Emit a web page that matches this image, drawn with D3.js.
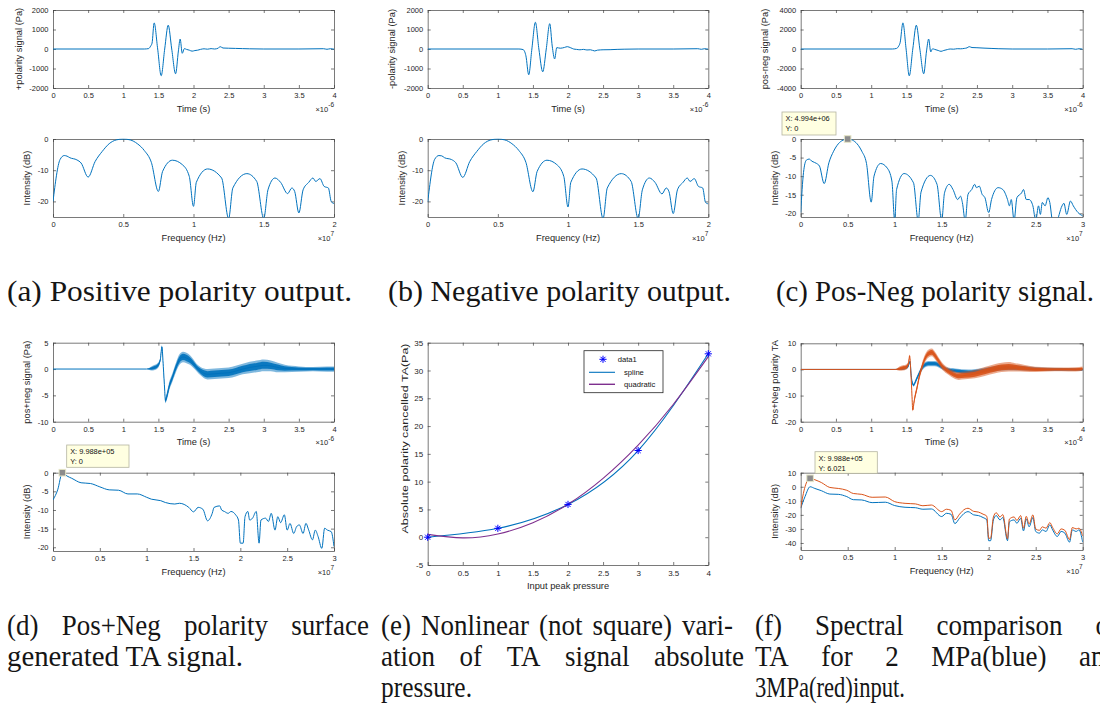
<!DOCTYPE html>
<html><head><meta charset="utf-8">
<script src="https://cdn.jsdelivr.net/npm/d3@7"></script>
<style>body{margin:0;background:#fff} svg{display:block}</style>
</head><body>
<svg id="fig" width="1100" height="704"></svg>
<script>
// ---------------- tick label arrays ----------------
const timeTicks = [0,0.5,1,1.5,2,2.5,3,3.5,4];
const freqTicks2 = [0,0.5,1,1.5,2];
const freqTicks3 = [0,0.5,1,1.5,2,2.5,3];
const paTicks2k = [-2000,-1000,0,1000,2000];
const paTicks4k = [-4000,-2000,0,2000,4000];
const dbTicks10s = [-20,-10,0];
const dbTicks5s = [-20,-15,-10,-5,0];
const sumTicks = [-10,-5,0,5];
const taTicks = [-20,-10,0,10];
const taDbTicks = [-40,-30,-20,-10,0,10];
const inputTicks = [0,0.5,1,1.5,2,2.5,3,3.5,4];
const absTicks = [-5,0,5,10,15,20,25,30,35];

// ---------------- (a) positive polarity ----------------
const posTime = [0,1.30,1.36,1.39,1.41,1.44,1.49,1.54,1.59,1.64,1.69,1.745,1.785,1.81,1.84,1.87,1.90,1.94,1.98,2.02,2.06,2.10,2.15,2.20,2.25,2.30,2.35,2.38,2.42,2.50,2.60,2.70,2.80,3.00,3.50,3.85,3.90,3.95,4.00];
const posSig  = [0,0,20,150,300,1340,0,-1370,0,1220,0,-1270,-100,510,-220,20,-20,-60,-110,-80,-60,-20,10,-10,20,0,40,120,50,40,30,20,10,0,0,15,-15,15,-10];
const specFreq2 = [0,0.05,0.08,0.10,0.12,0.17,0.20,0.25,0.30,0.35,0.40,0.45,0.50,0.55,0.60,0.65,0.70,0.75,0.78,0.85,0.92,0.97,1.00,1.02,1.10,1.20,1.25,1.28,1.38,1.45,1.50,1.53,1.58,1.62,1.67,1.70,1.72,1.75,1.78,1.82,1.85,1.87,1.90,1.93,1.96,1.98,2.00];
const posDb = [-20,-6.6,-5.3,-5.5,-6,-6.7,-7.7,-12.2,-7.2,-4,-1.5,-0.3,0,-0.3,-1.5,-3.7,-7.5,-16.8,-10.4,-6.8,-8.2,-12,-21.6,-13.9,-9.6,-12.5,-25.5,-15.7,-11.1,-13.6,-25.5,-16.3,-12.5,-13.9,-17.5,-15.7,-16.8,-23.7,-16.3,-13.9,-12.5,-13.6,-12.7,-15.2,-15.7,-20,-20.7];

// ---------------- (b) negative polarity ----------------
const negTime = [0,1.30,1.36,1.40,1.44,1.485,1.535,1.585,1.64,1.69,1.74,1.775,1.81,1.84,1.89,1.95,1.99,2.04,2.08,2.12,2.17,2.22,2.27,2.32,2.38,2.42,2.50,2.60,2.70,2.80,3.00,3.50,3.85,3.90,3.95,4.00];
const negSig  = [0,0,-30,-350,-1320,0,1370,0,-1170,0,1300,150,-510,70,40,80,120,60,0,-20,-40,-20,-50,-40,-100,-60,-40,-35,-20,-10,0,0,15,-15,15,-10];
const negDb = [-20.2,-6.5,-5.3,-5.4,-6,-6.6,-7.6,-12.3,-7.2,-4,-1.5,-0.3,0,-0.3,-1.5,-3.7,-7.5,-16.9,-10.4,-6.8,-8.2,-12,-21.8,-13.9,-9.6,-12.5,-25.5,-15.7,-11.1,-13.6,-25.5,-16.3,-12.5,-13.9,-17.6,-15.7,-16.9,-23.9,-16.3,-13.9,-12.5,-13.6,-12.7,-15.2,-15.7,-20.3,-20.8];

// ---------------- (c) pos-neg ----------------
const pnTime = [0,1.30,1.36,1.39,1.41,1.45,1.495,1.54,1.59,1.64,1.69,1.745,1.785,1.815,1.845,1.87,1.90,1.95,1.99,2.03,2.08,2.12,2.17,2.22,2.27,2.32,2.36,2.39,2.43,2.50,2.60,2.70,2.80,3.00,3.50,3.85,3.90,3.95,4.00];
const pnSig  = [0,0,60,300,640,2680,0,-2750,0,2440,0,-2540,-200,1020,-300,20,-40,-150,-240,-150,-60,0,-20,30,20,60,120,240,150,130,90,60,30,0,0,30,-30,30,-20];
const pnFreq = [0,0.03,0.06,0.09,0.12,0.17,0.20,0.25,0.30,0.35,0.40,0.45,0.50,0.55,0.60,0.65,0.70,0.75,0.78,0.85,0.92,0.97,1.00,1.02,1.10,1.20,1.25,1.28,1.38,1.45,1.50,1.53,1.58,1.62,1.67,1.70,1.72,1.75,1.78,1.82,1.85,1.87,1.90,1.93,1.96,2.00,2.03,2.10,2.15,2.20,2.22,2.24,2.27,2.30,2.35,2.37,2.40,2.43,2.47,2.50,2.53,2.55,2.57,2.60,2.63,2.65,2.68,2.72,2.78,2.80,2.83,2.87,2.90,2.95,3.00];
const pnDb = [-19.8,-9,-5.7,-5.4,-6,-6.6,-7.3,-12,-6.4,-3.3,-1.3,-0.3,0,-0.3,-1.3,-3.3,-6.6,-17,-10,-6.6,-7.8,-11.3,-22,-13.6,-9.3,-11.8,-22,-14.3,-9.8,-12.2,-22,-14.5,-12.2,-13.6,-16.3,-15.4,-17.1,-22,-14.9,-13.6,-12.2,-13.1,-12.7,-14.9,-15.8,-19.8,-16.3,-13.1,-13.6,-16.3,-18,-16.3,-22,-15.8,-14.5,-13.6,-16.3,-16.3,-18,-22,-18,-20.3,-17.1,-18,-15.8,-17.1,-22,-22,-18,-17.3,-20.3,-16.7,-18,-19.8,-20.7];
const pnTip = {f: 0.4994, db: 0, lines: ["X: 4.994e+06", "Y: 0"]};

// ---------------- (d) pos+neg ----------------
const sumTime  = [0,1.33,1.40,1.45,1.50,1.53,1.55,1.57,1.59,1.60,1.62,1.66,1.70,1.75,1.80,1.85,1.90,1.95,2.00,2.05,2.10,2.20,2.30,2.40,2.50,2.60,2.70,2.80,2.90,3.00,3.10,3.20,3.30,3.50,3.70,3.90,4.00];
const sumSig   = [0,0,0.1,0.3,0.8,2.0,4.2,0.5,-4.0,-6.0,-5.2,-3.0,-1.6,0.3,1.8,2.3,2.1,1.7,1.0,0.2,-0.4,-1.0,-0.9,-0.8,-0.7,-0.4,0.0,0.3,0.5,0.7,0.6,0.3,0.1,0.0,0.0,0.0,0.0];
const sumNoise = [0,0,0.4,0.5,0.5,0.4,0.3,0.3,0.3,0.5,0.7,0.8,0.8,0.9,1.0,1.0,1.0,0.9,0.8,0.7,0.8,1.0,1.0,1.0,1.0,1.0,1.0,1.1,1.1,1.1,1.0,0.9,0.7,0.5,0.4,0.5,0.5];
const sumFreq = [0,0.05,0.10,0.15,0.20,0.30,0.40,0.50,0.60,0.70,0.80,0.90,1.00,1.05,1.15,1.20,1.30,1.35,1.45,1.50,1.55,1.60,1.65,1.70,1.72,1.78,1.80,1.83,1.87,1.90,1.95,1.98,2.00,2.03,2.05,2.08,2.10,2.13,2.17,2.20,2.22,2.27,2.30,2.33,2.37,2.40,2.43,2.47,2.50,2.53,2.57,2.60,2.63,2.67,2.70,2.73,2.77,2.80,2.83,2.87,2.90,2.93,2.97,3.00];
const sumDb = [-7.3,-4.6,0,-0.9,-1.5,-2.7,-2.9,-3.8,-4.6,-4.7,-5.7,-5.7,-6.6,-7.1,-7.5,-8,-8.4,-8.2,-9.3,-10.5,-9.3,-9.8,-12.9,-10.9,-9.3,-8.9,-10,-10.4,-10.9,-10.4,-11.3,-12.7,-18.9,-18.9,-11.8,-10.4,-12.7,-12.2,-10.4,-18.9,-12.7,-12.2,-13.1,-10.9,-15.4,-11.8,-13.4,-11.3,-15.4,-13.6,-16.3,-14.5,-14,-16.3,-13.6,-15.4,-18,-15.4,-17.1,-20.3,-14.9,-15.4,-15.8,-19.8];
const sumTip = {f: 0.09988, db: 0, lines: ["X: 9.988e+05", "Y: 0"]};

// ---------------- (e) nonlinear variation ----------------
const inputPressure = [0,1,2,3,4];
const absTA = [0,1.6,5.9,15.6,33];
const quadX = [0,0.5,1,1.5,2,2.5,3,3.5,4];
const quadY = [0.51,-0.12,0.58,2.60,5.93,10.60,16.58,23.88,32.50];
const legendNames = ["data1","spline","quadratic"];

// ---------------- (f) 2 MPa (blue) vs 3 MPa (red) ----------------
const ta2Time  = [0,1.34,1.45,1.52,1.55,1.57,1.60,1.63,1.68,1.74,1.81,1.90,2.00,2.07,2.19,2.38,2.57,2.76,2.95,3.23,3.5,4.0];
const ta2Sig   = [0,0,0.3,1.0,3.0,-3.0,-6.0,-4.5,-1.5,1.2,2.2,2.2,1.0,0.0,-0.5,-1.0,-0.5,0.3,0.7,0.3,0.0,0.0];
const ta2Noise = [0,0,0.5,0.5,0.4,0.4,0.6,0.8,0.9,1.0,1.0,1.0,0.9,0.8,0.9,1.0,1.0,1.0,1.0,0.8,0.6,0.5];
const ta3Time  = [0,1.34,1.40,1.45,1.50,1.53,1.545,1.56,1.575,1.59,1.61,1.65,1.68,1.72,1.76,1.81,1.86,1.90,1.95,2.00,2.07,2.14,2.24,2.33,2.47,2.61,2.76,2.85,2.95,3.04,3.18,3.33,3.5,3.7,3.9,4.0];
const ta3Sig   = [0,0,0.3,0.6,1.0,2.5,5.2,0.0,-8.0,-15.5,-12.0,-7.0,-3.0,1.0,4.0,6.0,6.5,5.5,3.5,1.5,-0.3,-1.5,-2.5,-2.3,-1.8,-0.8,0.3,0.8,1.0,0.8,0.4,0.0,0.0,0.0,0.0,0.3];
const ta3Noise = [0,0,0.8,1.0,1.0,0.8,0.5,0.5,0.6,0.6,1.0,1.2,1.3,1.4,1.5,1.5,1.5,1.5,1.4,1.3,1.3,1.4,1.5,1.5,1.6,1.7,1.8,1.8,1.8,1.6,1.3,1.0,0.8,0.7,0.8,0.8];
const taFreq = [0,0.046,0.1,0.15,0.22,0.31,0.4,0.49,0.56,0.65,0.76,0.9,1.0,1.11,1.22,1.3,1.39,1.5,1.55,1.6,1.64,1.69,1.75,1.78,1.84,1.89,1.94,1.98,2.0,2.02,2.05,2.08,2.12,2.15,2.2,2.22,2.27,2.3,2.34,2.37,2.4,2.43,2.47,2.5,2.54,2.57,2.61,2.65,2.68,2.73,2.77,2.81,2.86,2.89,2.93,2.96,3.0];
const ta2Db = [-15.3,-7,0,-1.2,-2.8,-5.2,-5.4,-7,-9.2,-9.4,-11.3,-11,-13.4,-14.6,-14.9,-16,-15.8,-21.2,-18.9,-19.6,-26.2,-22.4,-18.4,-17.7,-20,-20.5,-21.9,-23.6,-38.4,-38.4,-23.6,-20.5,-23.6,-21.9,-38.4,-25,-23.6,-26,-22.4,-31.4,-22.8,-28.5,-21.9,-31.8,-33,-30.7,-31.8,-27.1,-30.7,-35.4,-31.8,-33,-39.4,-30.7,-31.8,-30.7,-39.4];
const ta3Db = [-15,0,6.02,5,3,-0.5,-1.2,-2.5,-4.8,-5.4,-7.5,-7.3,-10.6,-11.8,-12.2,-13.5,-13,-17.7,-16,-16.8,-23.6,-19.5,-15.8,-15.3,-17.5,-18,-19.5,-21,-36.6,-36.6,-21.5,-18.5,-21.5,-19.8,-37,-23,-21.5,-24,-20.5,-29.5,-21,-26.5,-20,-30,-31,-28.5,-29.5,-25.5,-29,-33.5,-30,-31,-37.5,-29,-30,-29.5,-35];
const taTip = {f: 0.09988, db: 6.021, lines: ["X: 9.988e+05", "Y: 6.021"]};

// ---------------- captions ----------------
const captionLines = [
  ["(a) Positive polarity output.", "fit"],
  ["(b) Negative polarity output.", "fit"],
  ["(c) Pos-Neg polarity signal.", "fit"],
  ["(d) Pos+Neg polarity surface", "just"],
  ["generated TA signal.", "fit"],
  ["(e) Nonlinear (not square) vari-", "just"],
  ["ation of TA signal absolute", "just"],
  ["pressure.", "fit"],
  ["(f) Spectral comparison of", "just"],
  ["TA for 2 MPa(blue) and", "just"],
  ["3MPa(red)input.", "fit"]
];

// ================= drawing =================
const BLUE = "#0072BD", RED = "#D95319", PURPLE = "#7E2F8E", STAR = "#0000FF";
const AXC = "#404040", TXC = "#262626";
const SANS = "'Liberation Sans', Arial, Helvetica, sans-serif";
const SERIF = "'Liberation Serif', 'Times New Roman', serif";
const CAP_FS = 29, CAP_SQUEEZE = 0.93;
const svg = d3.select("#fig");
const defs = svg.append("defs");
let cid = 0;

function axes(o){
  const x = d3.scaleLinear().domain(o.xd).range([o.l, o.r]);
  const y = d3.scaleLinear().domain(o.yd).range([o.b, o.t]);
  const g = svg.append("g");
  const fmt = d => String(d);
  const tfs = o.tfs || 7.5;
  const list = [
    [d3.axisBottom(x).tickValues(o.xt).tickFormat(fmt).tickPadding(5), `translate(0,${o.b})`],
    [d3.axisTop(x).tickValues(o.xt).tickFormat(() => ""), `translate(0,${o.t})`],
    [d3.axisLeft(y).tickValues(o.yt).tickFormat(fmt).tickPadding(4.5), `translate(${o.l},0)`],
    [d3.axisRight(y).tickValues(o.yt).tickFormat(() => ""), `translate(${o.r},0)`]
  ];
  list.forEach(([a, tr]) => g.append("g").attr("transform", tr).call(a.tickSize(-3).tickSizeOuter(0)));
  g.selectAll(".domain, .tick line").attr("stroke", AXC).attr("stroke-width", 0.7);
  g.selectAll(".tick text").attr("fill", TXC).attr("font-size", tfs).attr("font-family", SANS);
  g.append("text").attr("x", (o.l + o.r) / 2).attr("y", o.b + 23.5)
    .attr("text-anchor", "middle").attr("font-family", SANS).attr("font-size", 9.3)
    .attr("fill", TXC).text(o.xl);
  const ycy = o.ycy != null ? o.ycy : (o.t + o.b) / 2;
  const yl = g.append("text").attr("transform", `translate(${o.l - o.yo},${ycy}) rotate(-90)`)
    .attr("dy", "0.35em").attr("text-anchor", "middle").attr("font-family", SANS)
    .attr("font-size", 9.3).attr("fill", TXC).text(o.yl);
  if (o.ylw) yl.attr("textLength", o.ylw).attr("lengthAdjust", "spacingAndGlyphs");
  if (o.xe) {
    const t = g.append("text").attr("x", o.r).attr("y", o.b + 23.5).attr("text-anchor", "end")
      .attr("font-family", SANS).attr("font-size", 7.5).attr("fill", TXC);
    t.append("tspan").text("\u00d710");
    t.append("tspan").attr("dy", -4.5).attr("font-size", 6.5).text(o.xe);
  }
  const id = "clip" + (cid++);
  defs.append("clipPath").attr("id", id).append("rect")
    .attr("x", o.l).attr("y", o.t - 0.5).attr("width", o.r - o.l).attr("height", o.b - o.t + 1);
  const p = svg.append("g").attr("clip-path", `url(#${id})`);
  return {x, y, p, o};
}

function trace(ax, xs, ys, color, w){
  ax.p.append("path").datum(d3.range(xs.length))
    .attr("d", d3.line().x(i => ax.x(xs[i])).y(i => ax.y(ys[i])).curve(d3.curveMonotoneX))
    .attr("fill", "none").attr("stroke", color).attr("stroke-width", w || 1)
    .attr("stroke-linejoin", "round");
}
function band(ax, xs, ys, ns, color){
  const idx = d3.range(xs.length);
  ax.p.append("path").datum(idx)
    .attr("d", d3.area().x(i => ax.x(xs[i])).y0(i => ax.y(ys[i] - ns[i])).y1(i => ax.y(ys[i] + ns[i])).curve(d3.curveMonotoneX))
    .attr("fill", color).attr("fill-opacity", 0.5);
  ax.p.append("path").datum(idx)
    .attr("d", d3.area().x(i => ax.x(xs[i])).y0(i => ax.y(ys[i] - ns[i] * 0.6)).y1(i => ax.y(ys[i] + ns[i] * 0.6)).curve(d3.curveMonotoneX))
    .attr("fill", color).attr("fill-opacity", 0.9);
  trace(ax, xs, ys, color, 1);
}
function datatip(ax, tip, box){
  const mx = ax.x(tip.f), my = ax.y(tip.db);
  svg.append("rect").attr("x", box[0]).attr("y", box[1]).attr("width", box[2]).attr("height", box[3])
    .attr("fill", "#FFFFE1").attr("stroke", "#b4b4a0").attr("stroke-width", 0.8);
  tip.lines.forEach((s, i) => svg.append("text").attr("x", box[0] + 3.5).attr("y", box[1] + 9 + i * 9.8)
    .attr("font-family", SANS).attr("font-size", 7.4).attr("fill", "#111").text(s));
  svg.append("rect").attr("x", mx - 3.3).attr("y", my - 3.3).attr("width", 6.6).attr("height", 6.6)
    .attr("fill", "#8c8c8c").attr("stroke", "#e6e6c8").attr("stroke-width", 1);
}
function asterisk(g, cx, cy, r, color){
  const path = d3.path();
  [0, 45, 90, 135].forEach(a => {
    const dx = r * Math.cos(a * Math.PI / 180), dy = r * Math.sin(a * Math.PI / 180);
    path.moveTo(cx - dx, cy - dy); path.lineTo(cx + dx, cy + dy);
  });
  g.append("path").attr("d", path.toString()).attr("stroke", color).attr("stroke-width", 1).attr("fill", "none");
}

// ----- (a)
const A1 = axes({l:53, r:334, t:10, b:88, xd:[0,4], yd:[-2000,2000], xt:timeTicks, yt:paTicks2k,
  xl:"Time (s)", yl:"+polarity signal (Pa)", yo:34, xe:"-6"});
trace(A1, posTime, posSig, BLUE);
const A2 = axes({l:53, r:334, t:139, b:217, xd:[0,2], yd:[-25,0], xt:freqTicks2, yt:dbTicks10s,
  xl:"Frequency (Hz)", yl:"Intensity (dB)", yo:26.3, xe:"7"});
trace(A2, specFreq2, posDb, BLUE);

// ----- (b)
const B1 = axes({l:427.7, r:708.3, t:10, b:88, xd:[0,4], yd:[-2000,2000], xt:timeTicks, yt:paTicks2k,
  xl:"Time (s)", yl:"-polarity signal (Pa)", yo:36, xe:"-6"});
trace(B1, negTime, negSig, BLUE);
const B2 = axes({l:427.7, r:708.3, t:139, b:217, xd:[0,2], yd:[-25,0], xt:freqTicks2, yt:dbTicks10s,
  xl:"Frequency (Hz)", yl:"Intensity (dB)", yo:26, xe:"7"});
trace(B2, specFreq2, negDb, BLUE);

// ----- (c)
const C1 = axes({l:800.7, r:1082.7, t:10, b:88, xd:[0,4], yd:[-4000,4000], xt:timeTicks, yt:paTicks4k,
  xl:"Time (s)", yl:"pos-neg signal (Pa)", yo:35.7, xe:"-6"});
trace(C1, pnTime, pnSig, BLUE);
const C2 = axes({l:800.7, r:1082.7, t:139, b:217, xd:[0,3], yd:[-21,0], xt:freqTicks3, yt:dbTicks5s,
  xl:"Frequency (Hz)", yl:"Intensity (dB)", yo:25.7, xe:"7"});
trace(C2, pnFreq, pnDb, BLUE);
datatip(C2, pnTip, [782, 112, 54, 23]);

// ----- (d)
const D1 = axes({l:53, r:334, t:342.7, b:421.7, xd:[0,4], yd:[-10,5], xt:timeTicks, yt:sumTicks,
  xl:"Time (s)", yl:"pos+neg signal (Pa)", yo:26.3, xe:"-6"});
band(D1, sumTime, sumSig, sumNoise, BLUE);
const D2 = axes({l:53, r:334, t:472.7, b:551, xd:[0,3], yd:[-21,0], xt:freqTicks3, yt:dbTicks5s,
  xl:"Frequency (Hz)", yl:"Intensity (dB)", yo:26.3, xe:"7"});
trace(D2, sumFreq, sumDb, BLUE);
datatip(D2, sumTip, [66.7, 445, 62.3, 22.3]);

// ----- (e)
const E = axes({l:427.7, r:708.3, t:342.7, b:565, xd:[0,4], yd:[-5,35], xt:inputTicks, yt:absTicks,
  xl:"Input peak pressure", yl:"Absolute polarity cancelled TA(Pa)", yo:22.7, ycy:438.5, ylw:190, tfs:8});
E.p.append("path").datum(d3.range(inputPressure.length))
  .attr("d", d3.line().x(i => E.x(inputPressure[i])).y(i => E.y(absTA[i])).curve(d3.curveNatural))
  .attr("fill", "none").attr("stroke", BLUE).attr("stroke-width", 1.1);
E.p.append("path").datum(d3.range(quadX.length))
  .attr("d", d3.line().x(i => E.x(quadX[i])).y(i => E.y(quadY[i])).curve(d3.curveNatural))
  .attr("fill", "none").attr("stroke", PURPLE).attr("stroke-width", 1.1);
inputPressure.forEach((v, i) => asterisk(svg, E.x(v), E.y(absTA[i]), 3.6, STAR));
const lg = svg.append("g");
lg.append("rect").attr("x", 584).attr("y", 350.7).attr("width", 79).attr("height", 42)
  .attr("fill", "#fff").attr("stroke", "#262626").attr("stroke-width", 0.8);
asterisk(lg, 603, 359.3, 3.6, STAR);
lg.append("line").attr("x1", 589).attr("x2", 615).attr("y1", 372.3).attr("y2", 372.3).attr("stroke", BLUE).attr("stroke-width", 1.1);
lg.append("line").attr("x1", 589).attr("x2", 615).attr("y1", 384.3).attr("y2", 384.3).attr("stroke", PURPLE).attr("stroke-width", 1.4);
[[617.7, 362], [624, 375], [624, 387]].forEach((p, i) =>
  lg.append("text").attr("x", p[0]).attr("y", p[1]).attr("font-family", SANS).attr("font-size", 7.6)
    .attr("fill", "#111").text(legendNames[i]));

// ----- (f)
const F1 = axes({l:800.7, r:1082.7, t:343.3, b:421.7, xd:[0,4], yd:[-20,10], xt:timeTicks, yt:taTicks,
  xl:"Time (s)", yl:"Pos+Neg polarity TA", yo:25.7, xe:"-6"});
band(F1, ta2Time, ta2Sig, ta2Noise, BLUE);
band(F1, ta3Time, ta3Sig, ta3Noise, RED);
const F2 = axes({l:800.7, r:1082.7, t:472.7, b:550, xd:[0,3], yd:[-45,10], xt:freqTicks3, yt:taDbTicks,
  xl:"Frequency (Hz)", yl:"Intensity (dB)", yo:25.7, xe:"7"});
trace(F2, taFreq, ta2Db, BLUE);
trace(F2, taFreq, ta3Db, RED);
datatip(F2, taTip, [815, 451.7, 62.3, 21.6]);

// ----- captions (justified lines continue past the page edge, as in the source)
const capPos = [
  [7, 301, 345], [388, 301, 343], [776, 301, 318],
  [7, 635, 362], [7, 666, 236],
  [381, 635, 352], [381, 666, 363], [381, 697, 91],
  [755, 635, 363], [755, 666, 363], [755, 697, 150]
];
captionLines.forEach(([s, mode], k) => {
  const [x, y, w] = capPos[k];
  if (mode === "fit") {
    svg.append("text").attr("x", x).attr("y", y).attr("font-family", SERIF).attr("font-size", CAP_FS)
      .attr("fill", "#151515").attr("textLength", w).attr("lengthAdjust", "spacingAndGlyphs").text(s);
  } else {
    const words = s.split(" ");
    const nodes = words.map(wd => svg.append("text").attr("y", y).attr("font-family", SERIF)
      .attr("font-size", CAP_FS).attr("fill", "#151515").text(wd));
    const ws = nodes.map(n => n.node().getComputedTextLength() * CAP_SQUEEZE);
    nodes.forEach((n, i) => n.attr("textLength", ws[i]).attr("lengthAdjust", "spacingAndGlyphs"));
    const gap = (w - d3.sum(ws)) / (words.length - 1);
    let cx = x;
    nodes.forEach((n, i) => { n.attr("x", cx); cx += ws[i] + gap; });
  }
});
</script>
</body></html>
